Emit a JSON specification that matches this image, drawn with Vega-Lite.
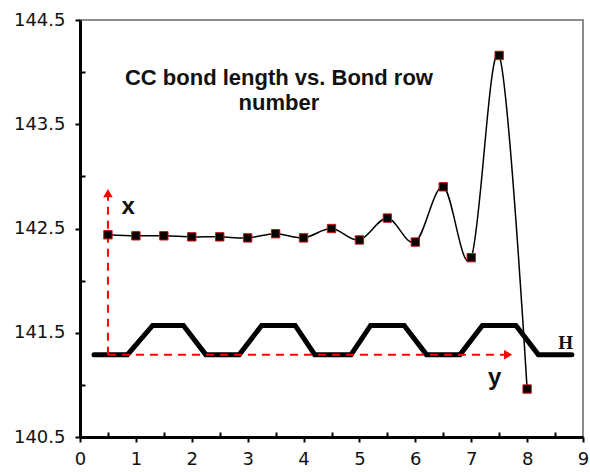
{
  "$schema": "https://vega.github.io/schema/vega-lite/v6.json",
  "width": 503,
  "height": 417,
  "autosize": {"type": "none"},
  "padding": {"left": 80, "top": 20, "right": 7, "bottom": 35},
  "background": "white",
  "config": {
    "view": {"stroke": "#8c8c8c", "strokeWidth": 2},
    "axis": {"grid": false, "title": null, "domainColor": "black", "domainWidth": 3, "tickColor": "black", "tickWidth": 2, "labelColor": "#111111", "labelFont": "DejaVu Sans", "labelFontSize": 18, "labelOverlap": false, "labelFlush": false}
  },
  "datasets": {
    "bonds": [
      {"x": 0.5, "y": 142.44}, {"x": 1.0, "y": 142.43}, {"x": 1.5, "y": 142.43}, {"x": 2.0, "y": 142.42},
      {"x": 2.5, "y": 142.42}, {"x": 3.0, "y": 142.41}, {"x": 3.5, "y": 142.45}, {"x": 4.0, "y": 142.41},
      {"x": 4.5, "y": 142.50}, {"x": 5.0, "y": 142.39}, {"x": 5.5, "y": 142.60}, {"x": 6.0, "y": 142.37},
      {"x": 6.5, "y": 142.90}, {"x": 7.0, "y": 142.22}, {"x": 7.5, "y": 144.16}, {"x": 8.0, "y": 140.96}
    ],
    "chain": [
      {"x": 0.25, "y": 141.29}, {"x": 0.85, "y": 141.29}, {"x": 1.3, "y": 141.57}, {"x": 1.85, "y": 141.57},
      {"x": 2.25, "y": 141.29}, {"x": 2.85, "y": 141.29}, {"x": 3.25, "y": 141.57}, {"x": 3.85, "y": 141.57},
      {"x": 4.2, "y": 141.29}, {"x": 4.85, "y": 141.29}, {"x": 5.2, "y": 141.57}, {"x": 5.8, "y": 141.57},
      {"x": 6.2, "y": 141.29}, {"x": 6.8, "y": 141.29}, {"x": 7.2, "y": 141.57}, {"x": 7.8, "y": 141.57},
      {"x": 8.2, "y": 141.29}, {"x": 8.8, "y": 141.29}
    ],
    "arrows": [
      {"seg": "v", "x": 0.5, "y": 141.29}, {"seg": "v", "x": 0.5, "y": 142.84},
      {"seg": "h", "x": 0.5, "y": 141.29}, {"seg": "h", "x": 7.66, "y": 141.29}
    ],
    "heads": [
      {"dir": "up", "x": 0.5, "y": 142.84},
      {"dir": "right", "x": 7.66, "y": 141.29}
    ],
    "titles": [
      {"x": 3.56, "y": 143.88, "text": "CC bond length vs. Bond row"},
      {"x": 3.56, "y": 143.64, "text": "number"}
    ],
    "axislabels": [
      {"x": 0.86, "y": 142.64, "text": "x"},
      {"x": 7.42, "y": 141.0, "text": "y"}
    ],
    "hlabel": [
      {"x": 8.69, "y": 141.40, "text": "H"}
    ]
  },
  "encoding": {
    "x": {"field": "x", "type": "quantitative", "scale": {"domain": [0, 9], "nice": false, "zero": false},
      "axis": {"values": [0, 0.5, 1, 1.5, 2, 2.5, 3, 3.5, 4, 4.5, 5, 5.5, 6, 6.5, 7, 7.5, 8, 8.5, 9],
        "labelExpr": "datum.value % 1 === 0 ? format(datum.value, 'd') : ''",
        "tickSize": {"condition": {"test": "datum.value % 1 !== 0", "value": -5}, "value": 5},
        "labelPadding": 8}},
    "y": {"field": "y", "type": "quantitative", "scale": {"domain": [140.5, 144.5], "nice": false, "zero": false},
      "axis": {"values": [140.5, 141, 141.5, 142, 142.5, 143, 143.5, 144, 144.5],
        "labelExpr": "datum.value % 1 !== 0 ? format(datum.value, '.1f') : ''",
        "tickSize": {"condition": {"test": "datum.value % 1 === 0", "value": -5}, "value": 5},
        "labelPadding": 10}}
  },
  "layer": [
    {"data": {"name": "chain"}, "mark": {"type": "line", "color": "black", "strokeWidth": 5, "strokeCap": "round", "strokeJoin": "miter"}},
    {"data": {"name": "arrows"}, "mark": {"type": "line", "color": "#ff0000", "strokeWidth": 2, "strokeDash": [8, 6]},
      "encoding": {"detail": {"field": "seg"}}},
    {"data": {"name": "heads"}, "mark": {"type": "point", "filled": true, "color": "#ff0000", "size": 90, "opacity": 1},
      "encoding": {"shape": {"field": "dir", "type": "nominal", "scale": {"domain": ["up", "right"], "range": ["triangle-up", "triangle-right"]}, "legend": null}}},
    {"data": {"name": "bonds"}, "mark": {"type": "line", "color": "black", "strokeWidth": 1.5, "interpolate": "cardinal"}},
    {"data": {"name": "bonds"}, "mark": {"type": "point", "shape": "square", "filled": true, "fill": "black", "stroke": "#d01010", "strokeWidth": 1, "size": 70, "opacity": 1}},
    {"data": {"name": "titles"}, "mark": {"type": "text", "font": "Liberation Sans", "fontWeight": "bold", "fontSize": 22, "align": "center", "baseline": "alphabetic", "color": "#111111"},
      "encoding": {"text": {"field": "text"}}},
    {"data": {"name": "axislabels"}, "mark": {"type": "text", "font": "Liberation Sans", "fontWeight": "bold", "fontSize": 24, "align": "center", "baseline": "alphabetic", "color": "#111111"},
      "encoding": {"text": {"field": "text"}}},
    {"data": {"name": "hlabel"}, "mark": {"type": "text", "font": "Liberation Serif", "fontWeight": "bold", "fontSize": 19, "align": "center", "baseline": "middle", "color": "#111111"},
      "encoding": {"text": {"field": "text"}}}
  ]
}
